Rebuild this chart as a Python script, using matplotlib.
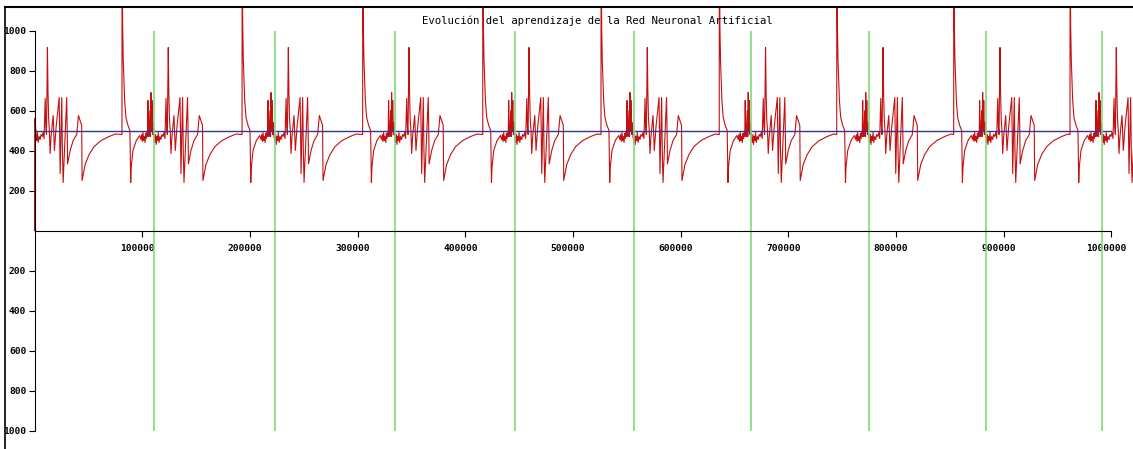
import numpy as np
import matplotlib.pyplot as plt
from matplotlib.lines import Line2D
from matplotlib.transforms import ScaledTranslation

# posiciones (en miles) del pico grande al comienzo de cada ciclo
spike_x = [-31.0, 81.2, 192.7, 304.7, 416.2, 526.0, 635.8, 744.9, 853.5, 961.5]
# lineas verdes
green_x = [111.0, 223.3, 334.7, 446.1, 556.4, 665.7, 775.1, 883.5, 991.2]
target = 500

# forma de un ciclo: desplazamiento (miles) desde el pico y valor
cycle_dx = [0, 0.1, 0.65, 1.2, 2.5, 3.7, 5.6, 7.4, 8.1, 8.6, 10.2, 13.3, 16.4,
            17.6, 18.3, 18.8, 19.5, 20.1, 20.7, 21.4, 22.0, 22.6, 23.2, 23.7,
            24.1, 24.6, 25.1, 26.0, 26.5, 26.9, 27.4, 27.9, 28.5, 29.1, 29.7,
            30.6, 31.3, 31.8, 32.5, 33.1, 33.7, 34.4, 35.3, 36.2, 37.1, 38.1,
            39.0, 39.9, 40.9, 41.5, 42.1, 43.0, 43.5, 44.1, 44.8, 45.5, 46.4,
            48.3, 48.9, 49.5, 51.1, 53.9, 54.5, 54.8, 56.3, 56.9, 57.6, 60.9,
            61.5, 61.7, 64.1, 66.9, 70.2, 71.8, 74.8, 75.2, 78.0, 81.7, 86.4,
            92.9, 100.3, 106.0]
cycle_v = [480, 1400, 1015, 850, 650, 565, 525, 500, 240, 315, 400, 450, 475,
           455, 480, 445, 490, 450, 470, 440, 485, 460, 490, 470,
           650, 490, 470, 600, 470, 690, 500, 650, 480, 540, 470,
           440, 480, 430, 470, 450, 490, 440, 470, 455, 480, 470,
           490, 460, 660, 520, 480, 915, 700, 560, 500, 385, 470,
           575, 480, 400, 520, 665, 400, 285, 665, 400, 240, 665,
           450, 333, 400, 450, 480, 575, 525, 250, 330, 380, 420,
           450, 470, 482]

start_x = [0, 0.2, 1.0]
start_v = [0, 560, 520]

y_ticks = [1000, 800, 600, 400, 200, -200, -400, -600, -800, -1000]
y_labels = ['1000', '800', '600', '400', '200', '200', '400', '600', '800', '1000']
x_ticks = [100000, 200000, 300000, 400000, 500000, 600000, 700000, 800000, 900000, 1000000]

xs = list(start_x)
vs = list(start_v)
for s in spike_x:
    for dx, v in zip(cycle_dx, cycle_v):
        if s + dx > xs[-1]:
            xs.append(s + dx)
            vs.append(v)
xs = np.array(xs) * 1000

fig = plt.figure(figsize=(11.33, 4.49), dpi=100)
ax = fig.add_axes([5 / 1133, 0, 1 - 5 / 1133, 1 - 7 / 449])

ax.plot(xs, vs, color='#c41010', lw=0.8)
ax.plot([0, 1000000], [target, target], color='#34349a', lw=1.0)
ax.vlines(np.array(green_x) * 1000, -1000, 1000, color='#7fdc7f', lw=1.2)

ax.set_xlim(-27400, 1020000)
ax.set_ylim(-1092.5, 1117.5)

for s in ['right', 'top']:
    ax.spines[s].set_visible(False)
ax.spines['left'].set_position(('data', 0))
ax.spines['left'].set_bounds(-1000, 1000)
ax.spines['bottom'].set_position(('data', 0))
ax.spines['bottom'].set_bounds(0, 1000000)

ax.set_yticks(y_ticks)
ax.set_yticklabels(y_labels)
ax.set_xticks(x_ticks)
ax.set_xticklabels([str(t) for t in x_ticks])
ax.tick_params(axis='both', length=4, width=0.8, direction='out')
ax.tick_params(axis='x', pad=6)
ax.tick_params(axis='y', pad=2)
for lbl in ax.get_xticklabels() + ax.get_yticklabels():
    lbl.set_family('DejaVu Sans Mono')
    lbl.set_fontweight('bold')
    lbl.set_fontsize(6.8)
off = ScaledTranslation(-5 / 100, 0, fig.dpi_scale_trans)
for lbl in ax.get_xticklabels():
    lbl.set_transform(lbl.get_transform() + off)

# marco
ax.add_line(Line2D([0, 1], [1, 1], transform=ax.transAxes, color='black', lw=1.5, clip_on=False))
ax.add_line(Line2D([0, 0], [0, 1], transform=ax.transAxes, color='black', lw=1.2, clip_on=False))

fig.text(597 / 1133, 1 - 21 / 449, 'Evolución del aprendizaje de la Red Neuronal Artificial',
         ha='center', va='center', family='DejaVu Sans Mono', fontsize=7.7)

fig.savefig('out.png', dpi=100)
